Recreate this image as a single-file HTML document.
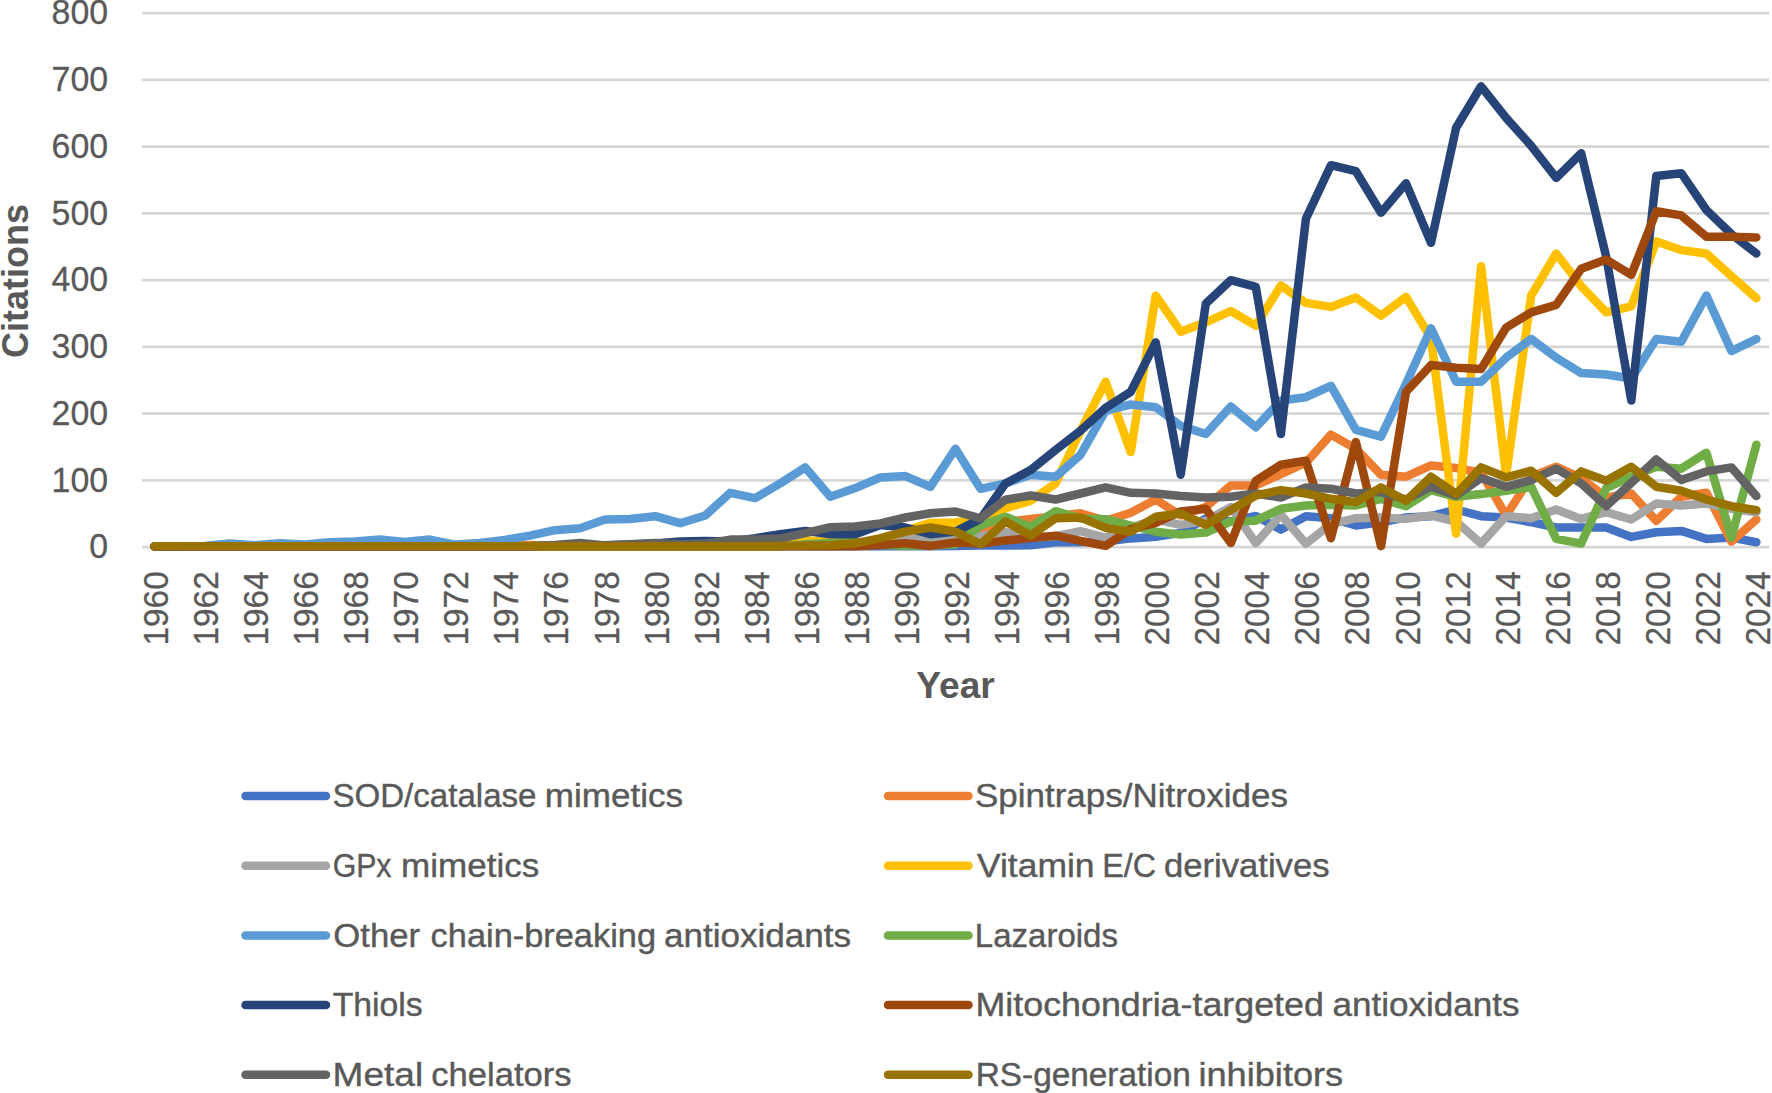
<!DOCTYPE html>
<html lang="en">
<head>
<meta charset="utf-8">
<title>Citations per year by antioxidant class</title>
<style>
html,body{margin:0;padding:0;background:#fff;}
body{width:1772px;height:1093px;overflow:hidden;}
svg{display:block;}
text{font-family:"Liberation Sans", sans-serif;fill:#595959;}
.tick{font-size:35.6px;stroke:#595959;stroke-width:0.3px;}
.ttl{font-size:36px;font-weight:bold;}
.leg{font-size:32.5px;stroke:#595959;stroke-width:0.4px;}
.ln{fill:none;stroke-width:8.5;stroke-linecap:round;stroke-linejoin:round;}
</style>
</head>
<body>
<svg width="1772" height="1093" viewBox="0 0 1772 1093">
<rect width="1772" height="1093" fill="#ffffff"/>
<g stroke="#D6D6D6" stroke-width="2.8">
<line x1="142" x2="1769" y1="547.20" y2="547.20"/>
<line x1="142" x2="1769" y1="480.45" y2="480.45"/>
<line x1="142" x2="1769" y1="413.70" y2="413.70"/>
<line x1="142" x2="1769" y1="346.95" y2="346.95"/>
<line x1="142" x2="1769" y1="280.20" y2="280.20"/>
<line x1="142" x2="1769" y1="213.45" y2="213.45"/>
<line x1="142" x2="1769" y1="146.70" y2="146.70"/>
<line x1="142" x2="1769" y1="79.95" y2="79.95"/>
<line x1="142" x2="1769" y1="13.20" y2="13.20"/>
</g>
<g class="tick" text-anchor="end">
<text x="108.2" y="558.30" textLength="18.87" lengthAdjust="spacingAndGlyphs">0</text>
<text x="108.2" y="491.55" textLength="56.61" lengthAdjust="spacingAndGlyphs">100</text>
<text x="108.2" y="424.80" textLength="56.61" lengthAdjust="spacingAndGlyphs">200</text>
<text x="108.2" y="358.05" textLength="56.61" lengthAdjust="spacingAndGlyphs">300</text>
<text x="108.2" y="291.30" textLength="56.61" lengthAdjust="spacingAndGlyphs">400</text>
<text x="108.2" y="224.55" textLength="56.61" lengthAdjust="spacingAndGlyphs">500</text>
<text x="108.2" y="157.80" textLength="56.61" lengthAdjust="spacingAndGlyphs">600</text>
<text x="108.2" y="91.05" textLength="56.61" lengthAdjust="spacingAndGlyphs">700</text>
<text x="108.2" y="24.30" textLength="56.61" lengthAdjust="spacingAndGlyphs">800</text>
</g>
<g class="tick" text-anchor="end">
<text transform="translate(155.50,571.2) rotate(-90)" x="0" y="12.5" textLength="74.4" lengthAdjust="spacingAndGlyphs">1960</text>
<text transform="translate(205.56,571.2) rotate(-90)" x="0" y="12.5" textLength="74.4" lengthAdjust="spacingAndGlyphs">1962</text>
<text transform="translate(255.62,571.2) rotate(-90)" x="0" y="12.5" textLength="74.4" lengthAdjust="spacingAndGlyphs">1964</text>
<text transform="translate(305.68,571.2) rotate(-90)" x="0" y="12.5" textLength="74.4" lengthAdjust="spacingAndGlyphs">1966</text>
<text transform="translate(355.74,571.2) rotate(-90)" x="0" y="12.5" textLength="74.4" lengthAdjust="spacingAndGlyphs">1968</text>
<text transform="translate(405.80,571.2) rotate(-90)" x="0" y="12.5" textLength="74.4" lengthAdjust="spacingAndGlyphs">1970</text>
<text transform="translate(455.86,571.2) rotate(-90)" x="0" y="12.5" textLength="74.4" lengthAdjust="spacingAndGlyphs">1972</text>
<text transform="translate(505.92,571.2) rotate(-90)" x="0" y="12.5" textLength="74.4" lengthAdjust="spacingAndGlyphs">1974</text>
<text transform="translate(555.98,571.2) rotate(-90)" x="0" y="12.5" textLength="74.4" lengthAdjust="spacingAndGlyphs">1976</text>
<text transform="translate(606.04,571.2) rotate(-90)" x="0" y="12.5" textLength="74.4" lengthAdjust="spacingAndGlyphs">1978</text>
<text transform="translate(656.10,571.2) rotate(-90)" x="0" y="12.5" textLength="74.4" lengthAdjust="spacingAndGlyphs">1980</text>
<text transform="translate(706.16,571.2) rotate(-90)" x="0" y="12.5" textLength="74.4" lengthAdjust="spacingAndGlyphs">1982</text>
<text transform="translate(756.22,571.2) rotate(-90)" x="0" y="12.5" textLength="74.4" lengthAdjust="spacingAndGlyphs">1984</text>
<text transform="translate(806.28,571.2) rotate(-90)" x="0" y="12.5" textLength="74.4" lengthAdjust="spacingAndGlyphs">1986</text>
<text transform="translate(856.34,571.2) rotate(-90)" x="0" y="12.5" textLength="74.4" lengthAdjust="spacingAndGlyphs">1988</text>
<text transform="translate(906.40,571.2) rotate(-90)" x="0" y="12.5" textLength="74.4" lengthAdjust="spacingAndGlyphs">1990</text>
<text transform="translate(956.46,571.2) rotate(-90)" x="0" y="12.5" textLength="74.4" lengthAdjust="spacingAndGlyphs">1992</text>
<text transform="translate(1006.52,571.2) rotate(-90)" x="0" y="12.5" textLength="74.4" lengthAdjust="spacingAndGlyphs">1994</text>
<text transform="translate(1056.58,571.2) rotate(-90)" x="0" y="12.5" textLength="74.4" lengthAdjust="spacingAndGlyphs">1996</text>
<text transform="translate(1106.64,571.2) rotate(-90)" x="0" y="12.5" textLength="74.4" lengthAdjust="spacingAndGlyphs">1998</text>
<text transform="translate(1156.70,571.2) rotate(-90)" x="0" y="12.5" textLength="74.4" lengthAdjust="spacingAndGlyphs">2000</text>
<text transform="translate(1206.76,571.2) rotate(-90)" x="0" y="12.5" textLength="74.4" lengthAdjust="spacingAndGlyphs">2002</text>
<text transform="translate(1256.82,571.2) rotate(-90)" x="0" y="12.5" textLength="74.4" lengthAdjust="spacingAndGlyphs">2004</text>
<text transform="translate(1306.88,571.2) rotate(-90)" x="0" y="12.5" textLength="74.4" lengthAdjust="spacingAndGlyphs">2006</text>
<text transform="translate(1356.94,571.2) rotate(-90)" x="0" y="12.5" textLength="74.4" lengthAdjust="spacingAndGlyphs">2008</text>
<text transform="translate(1407.00,571.2) rotate(-90)" x="0" y="12.5" textLength="74.4" lengthAdjust="spacingAndGlyphs">2010</text>
<text transform="translate(1457.06,571.2) rotate(-90)" x="0" y="12.5" textLength="74.4" lengthAdjust="spacingAndGlyphs">2012</text>
<text transform="translate(1507.12,571.2) rotate(-90)" x="0" y="12.5" textLength="74.4" lengthAdjust="spacingAndGlyphs">2014</text>
<text transform="translate(1557.18,571.2) rotate(-90)" x="0" y="12.5" textLength="74.4" lengthAdjust="spacingAndGlyphs">2016</text>
<text transform="translate(1607.24,571.2) rotate(-90)" x="0" y="12.5" textLength="74.4" lengthAdjust="spacingAndGlyphs">2018</text>
<text transform="translate(1657.30,571.2) rotate(-90)" x="0" y="12.5" textLength="74.4" lengthAdjust="spacingAndGlyphs">2020</text>
<text transform="translate(1707.36,571.2) rotate(-90)" x="0" y="12.5" textLength="74.4" lengthAdjust="spacingAndGlyphs">2022</text>
<text transform="translate(1757.42,571.2) rotate(-90)" x="0" y="12.5" textLength="74.4" lengthAdjust="spacingAndGlyphs">2024</text>
</g>
<text class="ttl" text-anchor="middle" transform="translate(27.7,281) rotate(-90)" textLength="154.2" lengthAdjust="spacingAndGlyphs">Citations</text>
<text class="ttl" text-anchor="middle" x="955.5" y="698" textLength="78.5" lengthAdjust="spacingAndGlyphs">Year</text>
<polyline class="ln" stroke="#4472C4" points="154.5,546.2 179.5,546.2 204.6,546.2 229.6,546.2 254.6,546.2 279.6,546.2 304.7,546.2 329.7,546.2 354.7,546.2 379.8,546.2 404.8,546.2 429.8,546.2 454.9,546.2 479.9,546.2 504.9,546.2 530.0,546.2 555.0,546.2 580.0,546.2 605.0,546.2 630.1,546.2 655.1,546.2 680.1,546.2 705.2,546.2 730.2,546.2 755.2,546.2 780.2,546.2 805.3,546.2 830.3,546.2 855.3,546.2 880.4,546.2 905.4,546.2 930.4,546.2 955.5,545.9 980.5,545.6 1005.5,545.6 1030.6,545.3 1055.6,542.3 1080.6,542.3 1105.6,541.6 1130.7,538.4 1155.7,536.8 1180.7,532.9 1205.8,518.5 1230.8,521.5 1255.8,516.0 1280.9,529.6 1305.9,516.2 1330.9,518.2 1355.9,525.5 1381.0,522.2 1406.0,517.5 1431.0,516.2 1456.1,509.5 1481.1,516.2 1506.1,517.5 1531.2,522.2 1556.2,527.5 1581.2,527.5 1606.2,527.5 1631.3,536.9 1656.3,532.2 1681.3,530.9 1706.4,538.9 1731.4,537.6 1756.4,542.3"/>
<polyline class="ln" stroke="#ED7D31" points="154.5,546.2 179.5,546.2 204.6,546.2 229.6,546.2 254.6,546.2 279.6,546.2 304.7,546.2 329.7,546.2 354.7,546.2 379.8,546.2 404.8,546.2 429.8,546.2 454.9,546.2 479.9,546.2 504.9,546.2 530.0,544.9 555.0,546.2 580.0,546.2 605.0,546.2 630.1,546.2 655.1,546.2 680.1,546.2 705.2,546.2 730.2,546.2 755.2,546.2 780.2,544.3 805.3,542.3 830.3,541.6 855.3,542.3 880.4,540.9 905.4,539.6 930.4,537.6 955.5,535.6 980.5,530.2 1005.5,522.2 1030.6,518.9 1055.6,516.2 1080.6,513.3 1105.6,520.9 1130.7,512.8 1155.7,499.5 1180.7,515.5 1205.8,507.1 1230.8,485.4 1255.8,485.4 1280.9,474.1 1305.9,462.7 1330.9,434.6 1355.9,448.7 1381.0,474.7 1406.0,476.7 1431.0,465.4 1456.1,468.0 1481.1,472.7 1506.1,515.5 1531.2,476.7 1556.2,466.7 1581.2,478.1 1606.2,497.5 1631.3,493.5 1656.3,520.9 1681.3,496.8 1706.4,492.8 1731.4,541.6 1756.4,519.5"/>
<polyline class="ln" stroke="#A5A5A5" points="154.5,546.2 179.5,546.2 204.6,546.2 229.6,546.2 254.6,546.2 279.6,546.2 304.7,546.2 329.7,546.2 354.7,546.2 379.8,546.2 404.8,546.2 429.8,546.2 454.9,546.2 479.9,546.2 504.9,546.2 530.0,546.2 555.0,546.2 580.0,546.2 605.0,546.2 630.1,546.2 655.1,546.2 680.1,546.2 705.2,546.2 730.2,546.2 755.2,546.2 780.2,546.2 805.3,546.2 830.3,546.2 855.3,544.3 880.4,542.3 905.4,539.6 930.4,538.9 955.5,539.6 980.5,536.2 1005.5,532.2 1030.6,537.6 1055.6,536.2 1080.6,531.1 1105.6,537.8 1130.7,527.5 1155.7,519.5 1180.7,524.9 1205.8,520.9 1230.8,507.1 1255.8,543.1 1280.9,514.8 1305.9,543.6 1330.9,524.2 1355.9,518.2 1381.0,517.5 1406.0,518.9 1431.0,515.5 1456.1,521.5 1481.1,543.6 1506.1,516.2 1531.2,518.2 1556.2,509.5 1581.2,518.9 1606.2,512.2 1631.3,519.5 1656.3,503.5 1681.3,505.5 1706.4,503.5 1731.4,508.8 1756.4,512.2"/>
<polyline class="ln" stroke="#FFC000" points="154.5,546.2 179.5,546.2 204.6,546.2 229.6,546.2 254.6,546.2 279.6,546.2 304.7,546.2 329.7,546.2 354.7,546.2 379.8,546.2 404.8,546.2 429.8,546.2 454.9,546.2 479.9,546.2 504.9,546.2 530.0,546.2 555.0,546.2 580.0,546.2 605.0,546.2 630.1,546.2 655.1,546.2 680.1,546.2 705.2,546.2 730.2,546.2 755.2,546.2 780.2,546.2 805.3,540.2 830.3,542.3 855.3,544.3 880.4,539.6 905.4,530.9 930.4,522.9 955.5,522.5 980.5,518.9 1005.5,508.2 1030.6,500.8 1055.6,483.4 1080.6,430.6 1105.6,381.8 1130.7,452.0 1155.7,295.6 1180.7,331.7 1205.8,322.3 1230.8,311.0 1255.8,325.7 1280.9,285.5 1305.9,302.9 1330.9,306.9 1355.9,297.6 1381.0,315.6 1406.0,296.9 1431.0,338.4 1456.1,533.6 1481.1,266.2 1506.1,475.4 1531.2,295.6 1556.2,253.5 1581.2,286.2 1606.2,312.3 1631.3,306.3 1656.3,241.4 1681.3,250.1 1706.4,253.5 1731.4,276.2 1756.4,298.2"/>
<polyline class="ln" stroke="#5B9BD5" points="154.5,546.2 179.5,546.2 204.6,545.9 229.6,543.6 254.6,545.3 279.6,543.3 304.7,544.6 329.7,542.3 354.7,541.6 379.8,539.6 404.8,541.9 429.8,539.6 454.9,544.6 479.9,542.9 504.9,539.9 530.0,535.6 555.0,530.2 580.0,528.2 605.0,519.5 630.1,518.9 655.1,516.2 680.1,523.2 705.2,515.5 730.2,492.8 755.2,498.1 780.2,483.4 805.3,467.4 830.3,496.8 855.3,488.1 880.4,477.4 905.4,476.1 930.4,486.8 955.5,448.7 980.5,488.8 1005.5,483.4 1030.6,474.7 1055.6,476.7 1080.6,454.7 1105.6,410.6 1130.7,404.5 1155.7,407.2 1180.7,425.9 1205.8,434.0 1230.8,406.5 1255.8,427.3 1280.9,400.5 1305.9,397.2 1330.9,385.8 1355.9,429.9 1381.0,436.6 1406.0,383.8 1431.0,328.3 1456.1,381.8 1481.1,381.8 1506.1,357.7 1531.2,339.0 1556.2,357.7 1581.2,373.1 1606.2,374.5 1631.3,378.5 1656.3,339.0 1681.3,341.7 1706.4,295.6 1731.4,351.1 1756.4,339.0"/>
<polyline class="ln" stroke="#70AD47" points="154.5,546.2 179.5,546.2 204.6,546.2 229.6,546.2 254.6,546.2 279.6,546.2 304.7,546.2 329.7,546.2 354.7,546.2 379.8,546.2 404.8,546.2 429.8,546.2 454.9,546.2 479.9,546.2 504.9,546.2 530.0,546.2 555.0,546.2 580.0,546.2 605.0,546.2 630.1,546.2 655.1,546.2 680.1,546.2 705.2,546.2 730.2,546.2 755.2,546.2 780.2,546.2 805.3,544.3 830.3,542.9 855.3,542.3 880.4,544.9 905.4,545.6 930.4,545.6 955.5,544.3 980.5,525.5 1005.5,516.8 1030.6,526.9 1055.6,511.2 1080.6,518.5 1105.6,519.2 1130.7,525.5 1155.7,531.7 1180.7,534.6 1205.8,532.5 1230.8,521.5 1255.8,520.7 1280.9,508.8 1305.9,505.5 1330.9,504.8 1355.9,505.5 1381.0,498.8 1406.0,506.2 1431.0,490.1 1456.1,496.8 1481.1,494.1 1506.1,490.8 1531.2,486.8 1556.2,538.9 1581.2,543.6 1606.2,488.1 1631.3,476.7 1656.3,466.7 1681.3,468.7 1706.4,452.7 1731.4,537.6 1756.4,444.7"/>
<polyline class="ln" stroke="#264478" points="154.5,546.2 179.5,546.2 204.6,546.2 229.6,546.2 254.6,546.2 279.6,546.2 304.7,546.2 329.7,546.2 354.7,546.2 379.8,546.2 404.8,546.2 429.8,546.2 454.9,546.2 479.9,546.2 504.9,546.2 530.0,546.2 555.0,545.6 580.0,545.3 605.0,545.3 630.1,544.6 655.1,543.6 680.1,541.6 705.2,540.9 730.2,541.6 755.2,538.2 780.2,534.2 805.3,530.9 830.3,534.2 855.3,534.2 880.4,524.9 905.4,527.5 930.4,534.2 955.5,531.6 980.5,518.9 1005.5,483.4 1030.6,470.1 1055.6,450.0 1080.6,430.6 1105.6,407.9 1130.7,391.8 1155.7,342.4 1180.7,474.7 1205.8,303.6 1230.8,280.2 1255.8,286.9 1280.9,434.0 1305.9,218.7 1330.9,165.2 1355.9,171.2 1381.0,212.7 1406.0,183.3 1431.0,242.8 1456.1,127.8 1481.1,86.3 1506.1,117.8 1531.2,145.8 1556.2,177.9 1581.2,153.2 1606.2,256.8 1631.3,400.5 1656.3,175.9 1681.3,173.2 1706.4,210.0 1731.4,234.1 1756.4,253.5"/>
<polyline class="ln" stroke="#9E480E" points="154.5,546.2 179.5,546.2 204.6,546.2 229.6,546.2 254.6,546.2 279.6,546.2 304.7,546.2 329.7,546.2 354.7,546.2 379.8,546.2 404.8,546.2 429.8,546.2 454.9,546.2 479.9,546.2 504.9,546.2 530.0,546.2 555.0,546.2 580.0,546.2 605.0,546.2 630.1,546.2 655.1,546.2 680.1,546.2 705.2,546.2 730.2,546.2 755.2,546.2 780.2,546.2 805.3,546.2 830.3,546.2 855.3,546.2 880.4,544.9 905.4,543.3 930.4,545.9 955.5,542.5 980.5,543.6 1005.5,540.4 1030.6,538.0 1055.6,535.7 1080.6,540.8 1105.6,545.9 1130.7,529.1 1155.7,522.9 1180.7,511.4 1205.8,508.8 1230.8,543.1 1255.8,480.8 1280.9,464.7 1305.9,460.7 1330.9,538.2 1355.9,442.0 1381.0,546.2 1406.0,391.8 1431.0,365.1 1456.1,367.8 1481.1,369.1 1506.1,327.7 1531.2,312.3 1556.2,304.9 1581.2,268.8 1606.2,259.5 1631.3,274.9 1656.3,211.3 1681.3,215.4 1706.4,236.7 1731.4,236.7 1756.4,237.4"/>
<polyline class="ln" stroke="#636363" points="154.5,546.2 179.5,546.2 204.6,546.2 229.6,546.2 254.6,546.2 279.6,546.2 304.7,546.2 329.7,546.2 354.7,546.2 379.8,546.2 404.8,546.2 429.8,546.2 454.9,546.2 479.9,546.2 504.9,546.2 530.0,546.2 555.0,544.9 580.0,542.9 605.0,545.6 630.1,544.3 655.1,542.9 680.1,544.3 705.2,543.6 730.2,539.6 755.2,539.6 780.2,538.6 805.3,533.1 830.3,527.2 855.3,526.5 880.4,523.5 905.4,517.5 930.4,513.3 955.5,511.5 980.5,518.4 1005.5,499.7 1030.6,495.5 1055.6,499.5 1080.6,493.5 1105.6,487.4 1130.7,492.8 1155.7,493.5 1180.7,496.1 1205.8,497.5 1230.8,496.8 1255.8,493.5 1280.9,497.5 1305.9,487.4 1330.9,488.8 1355.9,493.5 1381.0,492.1 1406.0,499.5 1431.0,486.8 1456.1,495.5 1481.1,478.1 1506.1,486.8 1531.2,480.1 1556.2,468.7 1581.2,483.4 1606.2,506.2 1631.3,482.8 1656.3,459.4 1681.3,480.1 1706.4,471.4 1731.4,467.4 1756.4,496.1"/>
<polyline class="ln" stroke="#997300" points="154.5,546.2 179.5,546.2 204.6,546.2 229.6,546.2 254.6,546.2 279.6,546.2 304.7,546.2 329.7,546.2 354.7,546.2 379.8,546.2 404.8,546.2 429.8,546.2 454.9,546.2 479.9,546.2 504.9,546.2 530.0,546.2 555.0,546.2 580.0,546.2 605.0,546.2 630.1,546.2 655.1,546.2 680.1,546.2 705.2,546.2 730.2,546.2 755.2,546.2 780.2,545.9 805.3,545.6 830.3,544.9 855.3,543.3 880.4,538.2 905.4,531.6 930.4,527.5 955.5,531.6 980.5,544.3 1005.5,521.5 1030.6,535.6 1055.6,518.2 1080.6,517.5 1105.6,527.9 1130.7,531.7 1155.7,516.8 1180.7,513.5 1205.8,524.9 1230.8,510.2 1255.8,495.5 1280.9,490.1 1305.9,493.5 1330.9,498.8 1355.9,502.1 1381.0,487.4 1406.0,500.8 1431.0,476.7 1456.1,494.1 1481.1,467.4 1506.1,477.4 1531.2,470.7 1556.2,492.8 1581.2,471.4 1606.2,480.8 1631.3,466.7 1656.3,486.8 1681.3,490.8 1706.4,499.5 1731.4,506.2 1756.4,510.2"/>
<line class="ln" stroke="#4472C4" x1="245.5" x2="326.0" y1="796.0" y2="796.0"/>
<text class="leg" y="807.3"><tspan x="332.47" textLength="203.98" lengthAdjust="spacingAndGlyphs">SOD/catalase</tspan> <tspan x="544.74" textLength="138.25" lengthAdjust="spacingAndGlyphs">mimetics</tspan></text>
<line class="ln" stroke="#ED7D31" x1="888.0" x2="968.5" y1="796.0" y2="796.0"/>
<text class="leg" y="807.3"><tspan x="975.05" textLength="312.84" lengthAdjust="spacingAndGlyphs">Spintraps/Nitroxides</tspan></text>
<line class="ln" stroke="#A5A5A5" x1="245.5" x2="326.0" y1="865.7" y2="865.7"/>
<text class="leg" y="877.0"><tspan x="332.64" textLength="58.87" lengthAdjust="spacingAndGlyphs">GPx</tspan> <tspan x="401.14" textLength="138.15" lengthAdjust="spacingAndGlyphs">mimetics</tspan></text>
<line class="ln" stroke="#FFC000" x1="888.0" x2="968.5" y1="865.7" y2="865.7"/>
<text class="leg" y="877.0"><tspan x="977.00" textLength="117.56" lengthAdjust="spacingAndGlyphs">Vitamin</tspan> <tspan x="1102.32" textLength="53.75" lengthAdjust="spacingAndGlyphs">E/C</tspan> <tspan x="1163.93" textLength="165.60" lengthAdjust="spacingAndGlyphs">derivatives</tspan></text>
<line class="ln" stroke="#5B9BD5" x1="245.5" x2="326.0" y1="935.4" y2="935.4"/>
<text class="leg" y="946.7"><tspan x="333.27" textLength="86.75" lengthAdjust="spacingAndGlyphs">Other</tspan> <tspan x="430.64" textLength="225.37" lengthAdjust="spacingAndGlyphs">chain-breaking</tspan> <tspan x="663.92" textLength="187.25" lengthAdjust="spacingAndGlyphs">antioxidants</tspan></text>
<line class="ln" stroke="#70AD47" x1="888.0" x2="968.5" y1="935.4" y2="935.4"/>
<text class="leg" y="946.7"><tspan x="974.85" textLength="143.08" lengthAdjust="spacingAndGlyphs">Lazaroids</tspan></text>
<line class="ln" stroke="#264478" x1="245.5" x2="326.0" y1="1005.1" y2="1005.1"/>
<text class="leg" y="1016.4"><tspan x="332.76" textLength="89.97" lengthAdjust="spacingAndGlyphs">Thiols</tspan></text>
<line class="ln" stroke="#9E480E" x1="888.0" x2="968.5" y1="1005.1" y2="1005.1"/>
<text class="leg" y="1016.4"><tspan x="975.49" textLength="348.38" lengthAdjust="spacingAndGlyphs">Mitochondria-targeted</tspan> <tspan x="1332.42" textLength="187.15" lengthAdjust="spacingAndGlyphs">antioxidants</tspan></text>
<line class="ln" stroke="#636363" x1="245.5" x2="326.0" y1="1074.8" y2="1074.8"/>
<text class="leg" y="1086.1"><tspan x="332.58" textLength="90.55" lengthAdjust="spacingAndGlyphs">Metal</tspan> <tspan x="431.24" textLength="140.29" lengthAdjust="spacingAndGlyphs">chelators</tspan></text>
<line class="ln" stroke="#997300" x1="888.0" x2="968.5" y1="1074.8" y2="1074.8"/>
<text class="leg" y="1086.1"><tspan x="975.72" textLength="215.02" lengthAdjust="spacingAndGlyphs">RS-generation</tspan> <tspan x="1198.47" textLength="144.72" lengthAdjust="spacingAndGlyphs">inhibitors</tspan></text>
</svg>
</body>
</html>
